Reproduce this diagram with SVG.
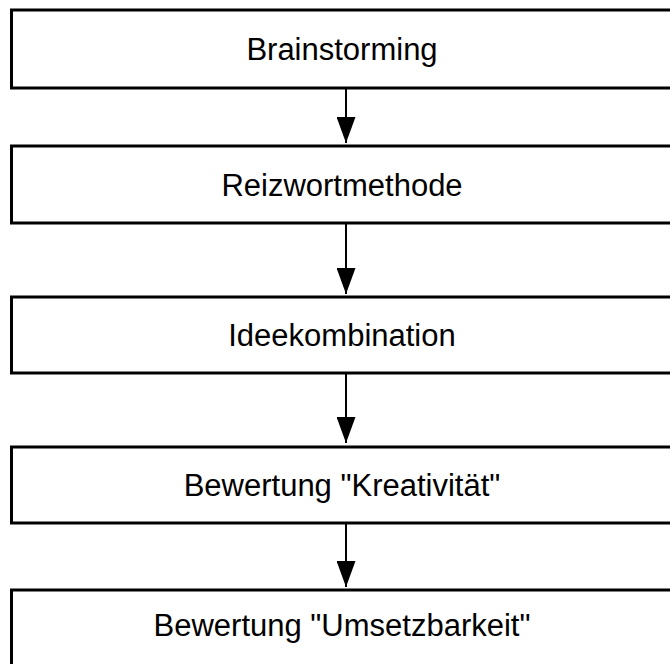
<svg xmlns="http://www.w3.org/2000/svg" width="670" height="664" viewBox="0 0 670 664">
  <style>
    .box { fill: #ffffff; stroke: #000000; stroke-width: 3; }
    .label { font-family: "Liberation Sans", Arial, Helvetica, sans-serif; font-size: 31px; fill: #000000; text-anchor: middle; }
    .flow { stroke: #000000; stroke-width: 2; fill: none; marker-end: url(#head); }
  </style>
  <defs>
    <marker id="head" viewBox="0 0 26 19" refX="26" refY="9.5" markerWidth="26" markerHeight="19" markerUnits="userSpaceOnUse" orient="auto">
      <path d="M0,0 L26,9.5 L0,19 Z" fill="#000000"/>
    </marker>
  </defs>

  <rect width="670" height="664" fill="#ffffff"/>

  <g id="connectors">
    <line class="flow" x1="346" y1="88" x2="346" y2="143"/>
    <line class="flow" x1="346" y1="223" x2="346" y2="294"/>
    <line class="flow" x1="346" y1="373" x2="346" y2="443"/>
    <line class="flow" x1="346" y1="523" x2="346" y2="587"/>
  </g>

  <g id="brainstorming">
    <rect class="box" x="11.5" y="10" width="670" height="78"/>
    <text class="label" x="342" y="60">Brainstorming</text>
  </g>

  <g id="reizwortmethode">
    <rect class="box" x="11.5" y="146" width="670" height="77"/>
    <text class="label" x="342" y="196">Reizwortmethode</text>
  </g>

  <g id="ideekombination">
    <rect class="box" x="11.5" y="297" width="670" height="76"/>
    <text class="label" x="342" y="346">Ideekombination</text>
  </g>

  <g id="bewertung-kreativitaet">
    <rect class="box" x="11.5" y="447" width="670" height="76"/>
    <text class="label" x="342" y="496">Bewertung "Kreativität"</text>
  </g>

  <g id="bewertung-umsetzbarkeit">
    <rect class="box" x="11.5" y="590" width="670" height="78"/>
    <text class="label" x="342" y="636">Bewertung "Umsetzbarkeit"</text>
  </g>
</svg>
